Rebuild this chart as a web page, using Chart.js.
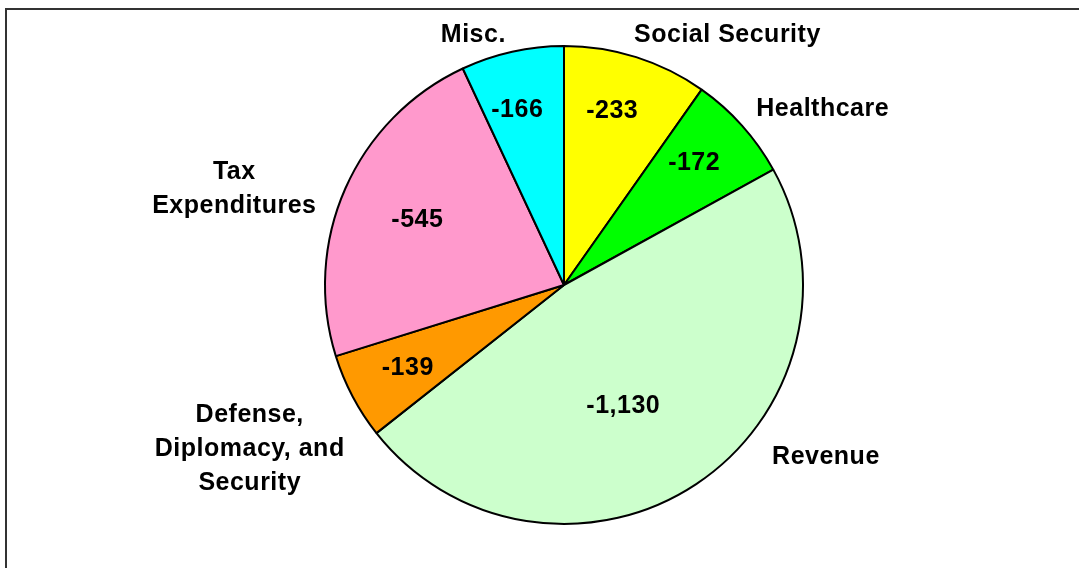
<!DOCTYPE html>
<html>
<head>
<meta charset="utf-8">
<script src="https://cdn.jsdelivr.net/npm/chart.js@4"></script>
<style>
    html, body { margin: 0; padding: 0; background: #fff; overflow: hidden; }
    #wrap { position: relative; width: 1079px; height: 568px; }
    #frame {
        position: absolute; left: 5px; top: 8px; width: 1200px; height: 700px;
        border-left: 2px solid #333; border-top: 2px solid #333;
    }
    #pie { position: absolute; left: 0; top: 0; }
</style>
</head>
<body>
<div id="wrap">
    <div id="frame"></div>
    <canvas id="pie" width="1079" height="568"></canvas>
</div>
<script>
// Chart data (clockwise from 12 o'clock)
const categories = ['Social Security', 'Healthcare', 'Revenue', 'Defense,\nDiplomacy, and\nSecurity', 'Tax\nExpenditures', 'Misc.'];
const values = [-233, -172, -1130, -139, -545, -166];
const valueLabels = ['-233', '-172', '-1,130', '-139', '-545', '-166'];

const sliceColors = ['#FFFF00', '#00FF00', '#CCFFCC', '#FF9900', '#FF99CC', '#00FFFF'];

// label placement relative to each slice: [radius factor, angle shift in degrees]
const valuePlacement = [[0.765, -2.3], [0.752, -1.75], [0.558, 7.2], [0.737, 0.3], [0.675, 0.8], [0.764, -2.3]];
const namePlacement = [[1.256, 15.4], [1.315, 7.25], [1.307, -23.4], [1.48, 0.5], [1.439, -7.27], [1.12, -7.27]];

const FONT = 'bold 25px "Liberation Sans", Arial, sans-serif';
const LINE_H = 34;
const CAP_HALF = 9;

function drawCentered(ctx, text, x, y) {
    const lines = text.split('\n');
    const top = y - (lines.length - 1) * LINE_H / 2;
    lines.forEach((line, i) => {
        ctx.fillText(line, x, top + i * LINE_H + CAP_HALF);
    });
}

const pieLabels = {
    id: 'pieLabels',
    afterDatasetsDraw(chart) {
        const ctx = chart.ctx;
        const meta = chart.getDatasetMeta(0);
        ctx.save();
        ctx.font = FONT;
        ctx.fillStyle = '#000';
        ctx.textAlign = 'center';
        ctx.textBaseline = 'alphabetic';
        if ('letterSpacing' in ctx) ctx.letterSpacing = '0.5px';

        meta.data.forEach((arc, i) => {
            const p = arc.getProps(['x', 'y', 'startAngle', 'endAngle', 'outerRadius'], true);
            const mid = (p.startAngle + p.endAngle) / 2;

            const [vr, va] = valuePlacement[i];
            const a1 = mid + va * Math.PI / 180;
            drawCentered(ctx, valueLabels[i],
                p.x + Math.cos(a1) * p.outerRadius * vr,
                p.y + Math.sin(a1) * p.outerRadius * vr);

            const [nr, na] = namePlacement[i];
            const a2 = mid + na * Math.PI / 180;
            drawCentered(ctx, categories[i],
                p.x + Math.cos(a2) * p.outerRadius * nr,
                p.y + Math.sin(a2) * p.outerRadius * nr);
        });
        ctx.restore();
    }
};

new Chart(document.getElementById('pie').getContext('2d'), {
    type: 'pie',
    data: {
        labels: categories,
        datasets: [{
            data: values,
            backgroundColor: sliceColors,
            borderColor: '#000',
            borderWidth: 2
        }]
    },
    options: {
        responsive: false,
        animation: false,
        layout: {
            padding: { left: 324, right: 275, top: 45, bottom: 43 }
        },
        plugins: {
            legend: { display: false },
            tooltip: { enabled: false }
        }
    },
    plugins: [pieLabels]
});
</script>
</body>
</html>
